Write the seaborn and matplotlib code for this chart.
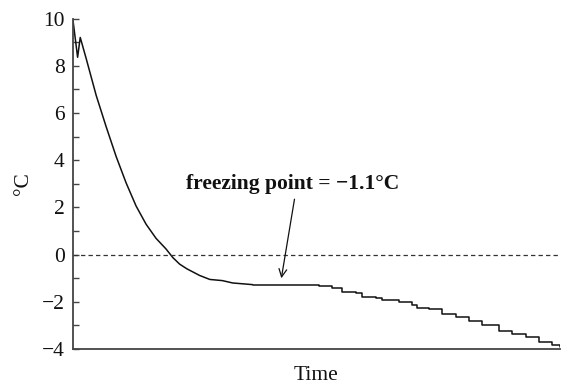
import matplotlib
matplotlib.use("Agg")
import matplotlib.pyplot as plt
from matplotlib.ticker import MultipleLocator
import numpy as np
import pandas as pd
import seaborn as sns

# Time in arbitrary units (0-100 across the axis); temperature in deg C
cool_time = [0.0, 0.96, 1.5, 2.73, 4.77, 6.82, 8.87, 10.92, 12.97, 15.02,
             17.07, 19.12, 20.5, 21.9, 23.4, 26.0, 28.1, 30.7, 32.8, 36.9]
cool_temp = [9.95, 8.36, 9.2, 8.3, 6.75, 5.42, 4.16, 3.04, 2.06, 1.29,
             0.69, 0.24, -0.12, -0.4, -0.6, -0.88, -1.05, -1.1, -1.2, -1.27]

freeze_time = [36.9, 46.5, 50.6, 53.3, 55.3, 58.1, 59.4, 62.2, 63.5, 67.0,
               69.7, 70.7, 73.2, 75.8, 78.6, 81.4, 84.0, 87.5, 90.2, 93.0,
               95.7, 98.4, 100.0]
freeze_temp = [-1.27, -1.3, -1.32, -1.43, -1.6, -1.64, -1.78, -1.82, -1.92,
               -2.02, -2.13, -2.27, -2.31, -2.52, -2.66, -2.8, -2.97, -3.22,
               -3.36, -3.5, -3.71, -3.81, -3.92]

freezing_point = -1.1
y_ticks = [-4, -2, 0, 2, 4, 6, 8, 10]

sns.set_theme(style="ticks")
plt.rcParams["font.family"] = ["Liberation Serif", "DejaVu Serif"]

fig = plt.figure(figsize=(5.61, 3.87), dpi=100)
ax = fig.add_axes([0.130, 0.098, 0.868, 0.854])

cool = pd.DataFrame({"time": cool_time, "temp": cool_temp})
frz = pd.DataFrame({"time": freeze_time, "temp": freeze_temp})

sns.lineplot(data=cool, x="time", y="temp", ax=ax, color="#111111",
             linewidth=1.1, estimator=None, sort=False)
sns.lineplot(data=frz, x="time", y="temp", ax=ax, color="#111111",
             linewidth=1.1, estimator=None, sort=False, drawstyle="steps-post")

ax.axhline(0, color="#333333", linewidth=0.9, linestyle=(0, (3.5, 2.5)))

ax.set_xlim(0, 100)
ax.set_ylim(-4, 10)
ax.set_yticks(y_ticks)
ax.yaxis.set_minor_locator(MultipleLocator(1))
ax.set_xticks([])
ax.tick_params(axis="y", which="major", direction="in", length=4, width=1,
               color="#444444", labelsize=15.5, pad=6, labelcolor="#111111")
ax.tick_params(axis="y", which="minor", direction="in", length=4, width=1,
               color="#444444")
ax.set_yticklabels([("\u2212" + str(abs(v))) if v < 0 else str(v) for v in y_ticks])

for s in ["top", "right"]:
    ax.spines[s].set_visible(False)
for s in ["left", "bottom"]:
    ax.spines[s].set_color("#444444")
    ax.spines[s].set_linewidth(1.3)

ax.set_xlabel("Time", fontsize=15.5, color="#111111", labelpad=12.5)
ax.set_ylabel("\u00b0C", fontsize=15.5, color="#111111", labelpad=6)

ax.text(45.1, 2.56, "freezing point = \u22121.1\u00b0C", ha="center",
        va="bottom", fontsize=15.5, fontweight="bold", color="#111111")
ax.annotate("", xy=(42.8, -1.0), xytext=(45.5, 2.35),
            arrowprops=dict(arrowstyle="->", color="#111111", lw=0.9,
                            shrinkA=0, shrinkB=0, mutation_scale=14))

fig.savefig("out.png", dpi=100)
